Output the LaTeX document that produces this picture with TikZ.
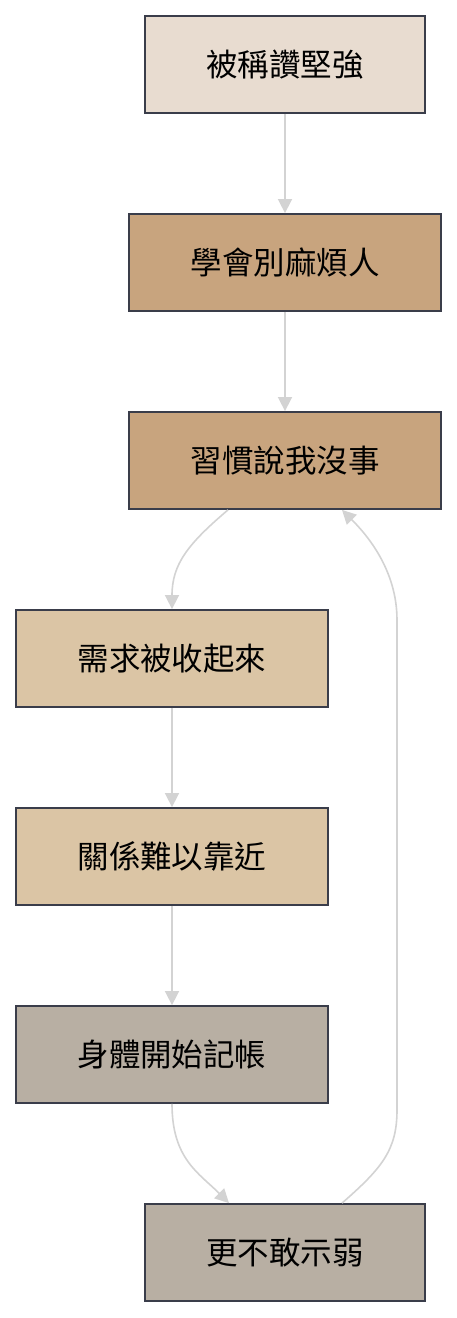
\documentclass[tikz,border=0pt]{standalone}
\usepackage{fontspec}
\setmainfont{Noto Sans CJK TC}
\usetikzlibrary{arrows.meta,calc}
\definecolor{bordc}{HTML}{3A3D4A}
\definecolor{edgec}{HTML}{D3D3D3}
\definecolor{cA}{HTML}{E8DCD0}
\definecolor{cB}{HTML}{C8A47E}
\definecolor{cC}{HTML}{DBC5A5}
\definecolor{cD}{HTML}{B8AFA3}
\tikzset{
  box/.style={draw=bordc, line width=1.8pt, minimum height=97pt, inner sep=0pt, font=\fontsize{31.5}{36}\selectfont, text=black},
  narrow/.style={box, minimum width=280pt},
  wide/.style={box, minimum width=312pt},
  edge/.style={draw=edgec, line width=1.6pt, -{Triangle[width=14pt,length=14pt]}}
}
\begin{document}
\begin{tikzpicture}[x=1pt,y=-1pt]
\useasboundingbox (0,0) rectangle (457,1318);
\node[narrow, fill=cA] (n1) at (285,64.5) {被稱讚堅強};
\node[wide, fill=cB] (n2) at (285,262.5) {學會別麻煩人};
\node[wide, fill=cB] (n3) at (285,460.5) {習慣說我沒事};
\node[wide, fill=cC] (n4) at (172,658.5) {需求被收起來};
\node[wide, fill=cC] (n5) at (172,856.5) {關係難以靠近};
\node[wide, fill=cD] (n6) at (172,1054.5) {身體開始記帳};
\node[narrow, fill=cD] (n7) at (285,1252.5) {更不敢示弱};
\draw[edge] (n1.south) -- (n2.north);
\draw[edge] (n2.south) -- (n3.north);
\draw[edge] ([xshift=-57pt]n3.south) .. controls +(-40,34) and +(0,-45) .. (n4.north);
\draw[edge] (n4.south) -- (n5.north);
\draw[edge] (n5.south) -- (n6.north);
\draw[edge] (n6.south) .. controls +(0,55) and +(-30,-30) .. ([xshift=-56pt]n7.north);
\coordinate (r1) at (397,1110);
\coordinate (r2) at (397,620);
\draw[edge] ([xshift=57pt]n7.north) .. controls +(40,-35) and +(0,40) .. (r1) -- (r2) .. controls +(0,-50) and +(25,25) .. ([xshift=57pt]n3.south);
\end{tikzpicture}
\end{document}
